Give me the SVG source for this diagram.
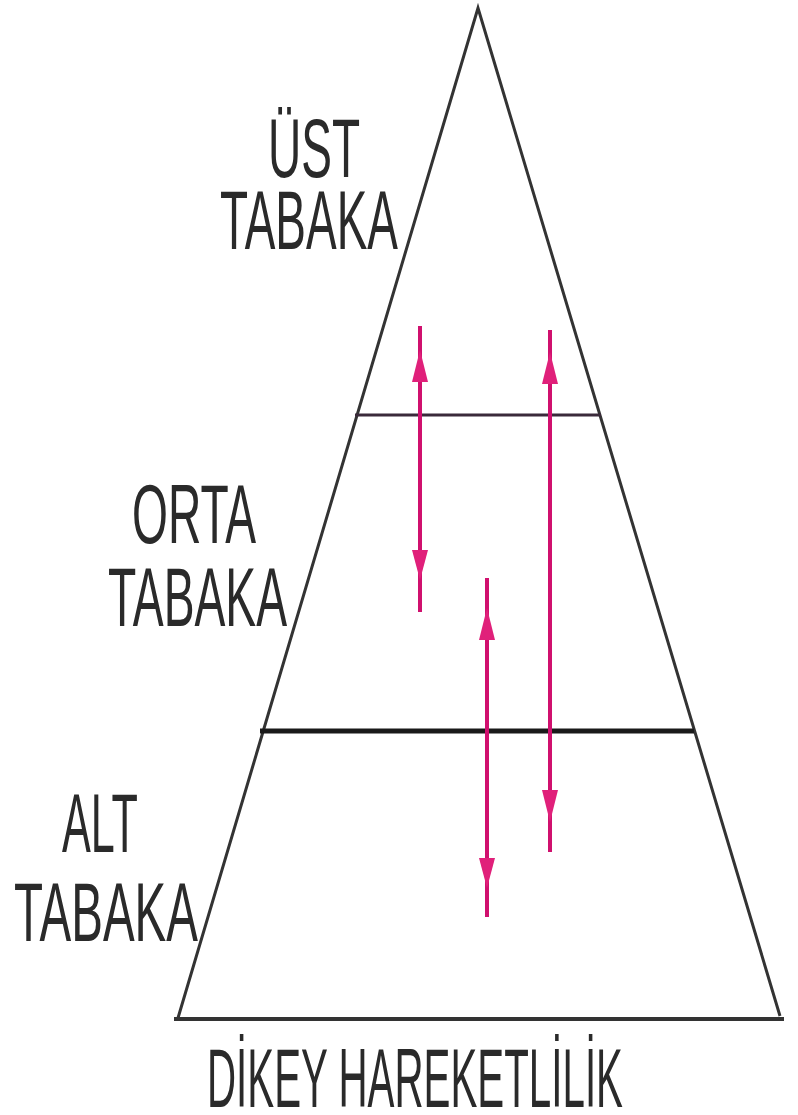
<svg xmlns="http://www.w3.org/2000/svg" width="798" height="1115" viewBox="0 0 798 1115">
<style>
.lbl{font-family:"Liberation Sans",Arial,sans-serif;fill:#2a2a2a;font-size:84px;}
.edge{stroke:#333;stroke-width:3;fill:none;}
.arr{stroke:#d0106e;stroke-width:4;fill:none;}
.head{fill:#e0207a;}
</style>
<rect width="798" height="1115" fill="#fff"/>
<g id="pyramid">
<polyline class="edge" points="178,1018 478,8 780,1016"/>
<line x1="174" y1="1019" x2="784" y2="1019" stroke="#333" stroke-width="4"/>
</g>
<g id="divider-top"><line x1="355" y1="415" x2="601" y2="415" stroke="#3a2a3a" stroke-width="3"/></g>
<g id="divider-bottom"><line x1="260" y1="731" x2="694" y2="731" stroke="#1a1a1a" stroke-width="5"/></g>
<g id="label-ust">
<text class="lbl" x="268" y="177" textLength="92" lengthAdjust="spacingAndGlyphs">ÜST</text>
<text class="lbl" x="220" y="249" font-size="76" textLength="178" lengthAdjust="spacingAndGlyphs">TABAKA</text>
</g>
<g id="label-orta">
<text class="lbl" x="132" y="543" textLength="124" lengthAdjust="spacingAndGlyphs">ORTA</text>
<text class="lbl" x="108" y="626" textLength="179" lengthAdjust="spacingAndGlyphs">TABAKA</text>
</g>
<g id="label-alt">
<text class="lbl" x="62" y="852" textLength="76" lengthAdjust="spacingAndGlyphs">ALT</text>
<text class="lbl" x="14" y="941" font-size="88" textLength="184" lengthAdjust="spacingAndGlyphs">TABAKA</text>
</g>
<g id="label-axis">
<text class="lbl" x="207" y="1107" font-size="90" textLength="416" lengthAdjust="spacingAndGlyphs">DİKEY HAREKETLİLİK</text>
</g>
<g id="connectors">
<line class="arr" x1="420" y1="326" x2="420" y2="612"/>
<polygon class="head" points="420,350 428,382 412,382"/>
<polygon class="head" points="412,550 428,550 420,580"/>
<line class="arr" x1="550" y1="330" x2="550" y2="852"/>
<polygon class="head" points="550,352 558,384 542,384"/>
<polygon class="head" points="542,790 558,790 550,822"/>
<line class="arr" x1="487" y1="578" x2="487" y2="917"/>
<polygon class="head" points="487,608 495,640 479,640"/>
<polygon class="head" points="479,858 495,858 487,888"/>
</g>
</svg>
